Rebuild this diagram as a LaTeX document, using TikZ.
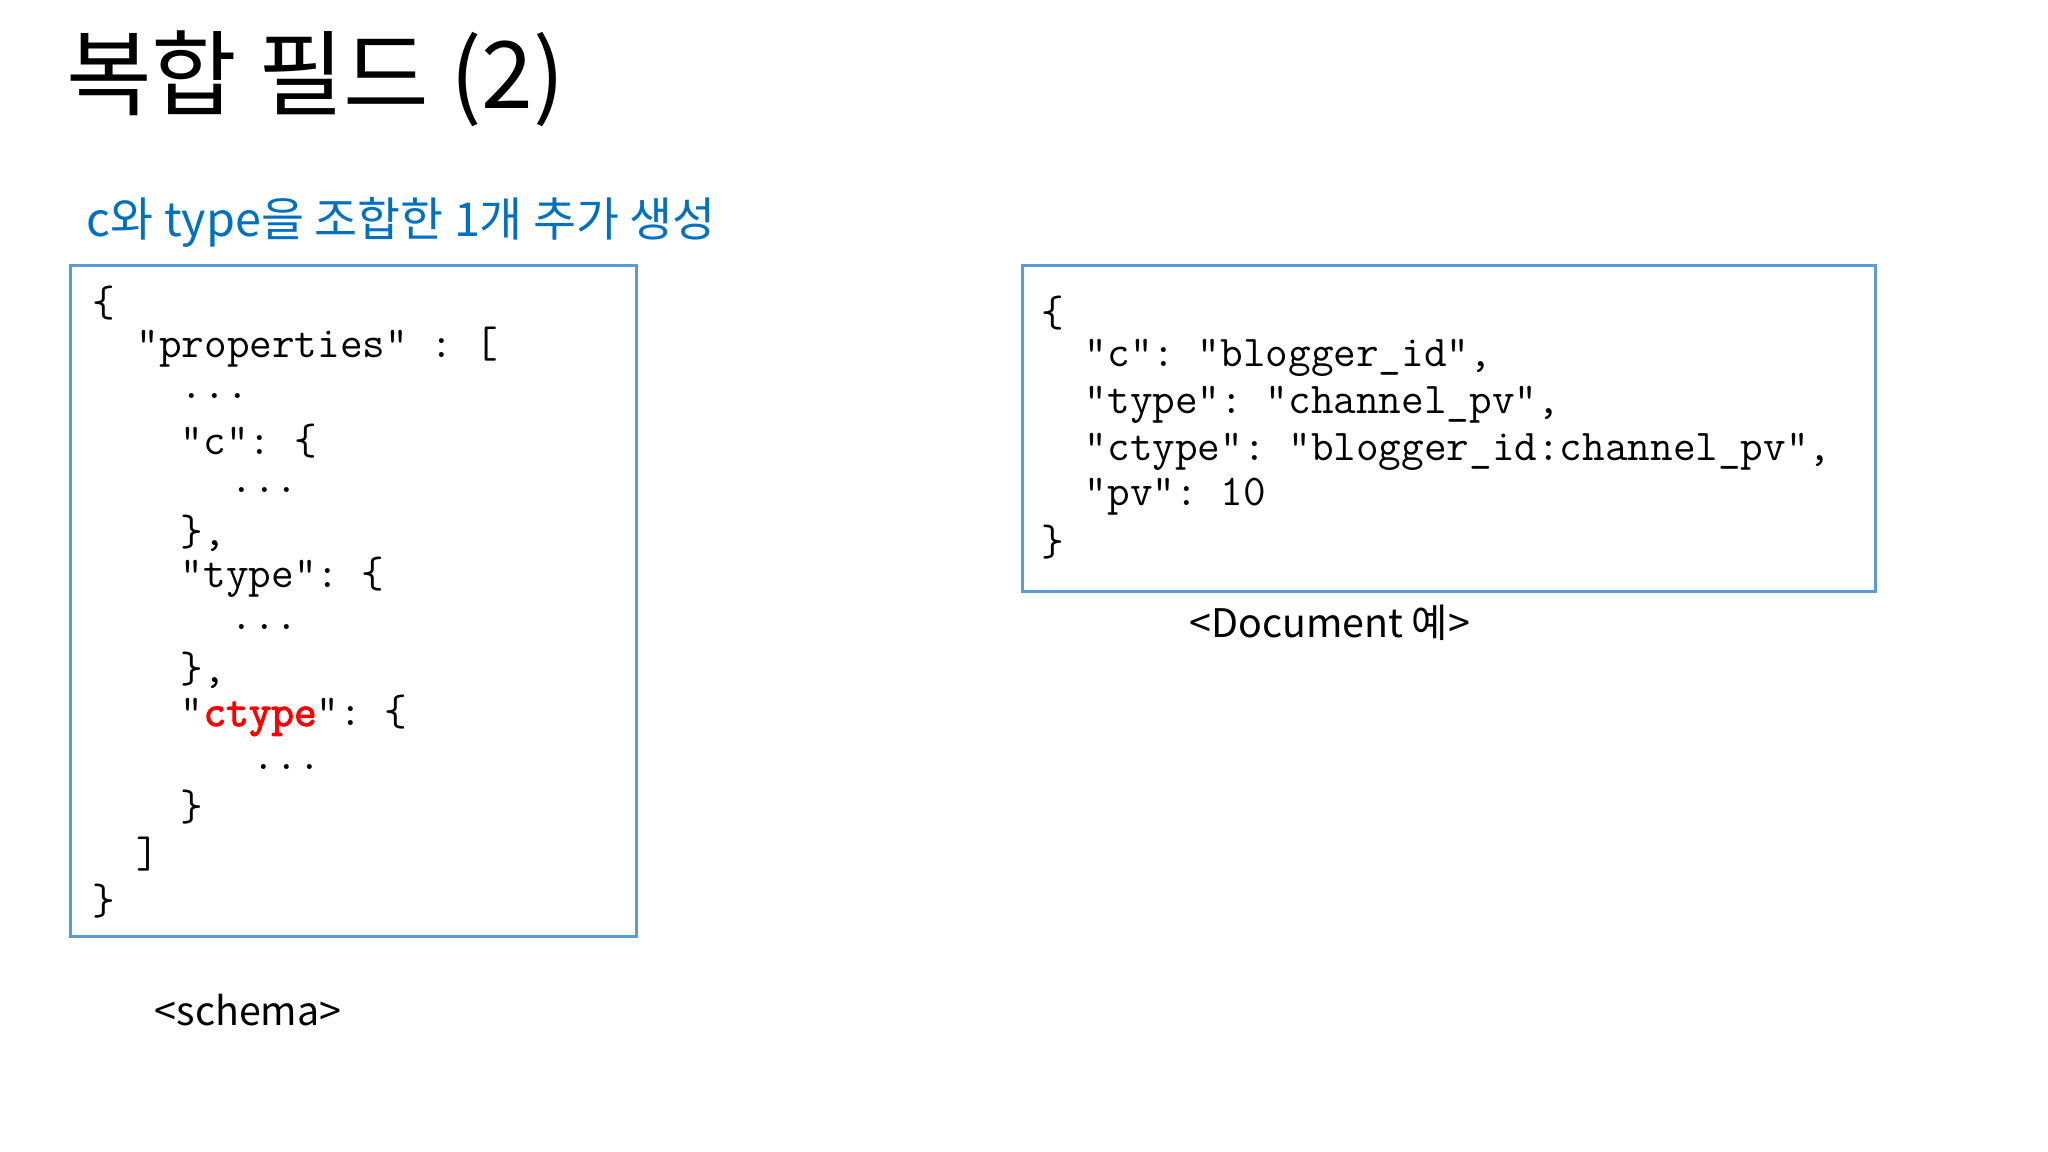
\documentclass[tikz,border=0pt]{standalone}
\usepackage{fontspec}
\setmainfont{Noto Sans CJK KR}
\setmonofont{Latin Modern Mono}
\newfontfamily\boldmono{Latin Modern Mono}[FakeBold=2.5]
\definecolor{boxblue}{RGB}{91,155,213}
\definecolor{subblue}{RGB}{0,112,192}
\begin{document}
\begin{tikzpicture}[x=0.013061cm,y=-0.013061cm,
  code/.style={anchor=west,inner sep=0pt,font=\ttfamily\fontsize{12.5}{14}\selectfont},
  box/.style={draw=boxblue,line width=0.9pt}]
\useasboundingbox (0,0) rectangle (1568,882);
\node[anchor=west,inner sep=0pt,font=\fontsize{26.5}{31}\selectfont] (title) at (50,60) {복합 필드 (2)};
\node[anchor=west,inner sep=0pt,text=subblue,font=\fontsize{13.3}{16}\selectfont] (sub) at (66,170) {c와 type을 조합한 1개 추가 생성};
\draw[box] (54,203) rectangle (487,717);
\draw[box] (783,203) rectangle (1436,453);
\node[code] (l1) at (70,232) {\{};
\node[code] (l2) at (104,266) {"properties" : [};
\node[code] (l3) at (138,303) {...};
\node[code] (l4) at (138,338) {"c": \{};
\node[code] (l5) at (176,375) {...};
\node[code] (l6) at (138,408) {\},};
\node[code] (l7) at (138,442) {"type": \{};
\node[code] (l8) at (176,480) {...};
\node[code] (l9) at (138,513) {\},};
\node[code] (l10) at (138,548) {"\textcolor{red}{\boldmono ctype}": \{};
\node[code] (l11) at (193,587) {...};
\node[code] (l12) at (138,618) {\}};
\node[code] (l13) at (104,654) {]};
\node[code] (l14) at (70,690) {\}};
\node[code] (r1) at (797,240) {\{};
\node[code] (r2) at (830,274) {"c": "blogger\_id",};
\node[code] (r3) at (830,310) {"type": "channel\_pv",};
\node[code] (r4) at (830,346) {"ctype": "blogger\_id:channel\_pv",};
\node[code] (r5) at (830,380) {"pv": 10};
\node[code] (r6) at (797,415) {\}};
\node[font=\fontsize{11.2}{14}\selectfont,inner sep=0pt] (doc) at (1018,477) {<Document 예>};
\node[font=\fontsize{11.2}{14}\selectfont,inner sep=0pt] (sch) at (190,773) {<schema>};
\end{tikzpicture}
\end{document}
